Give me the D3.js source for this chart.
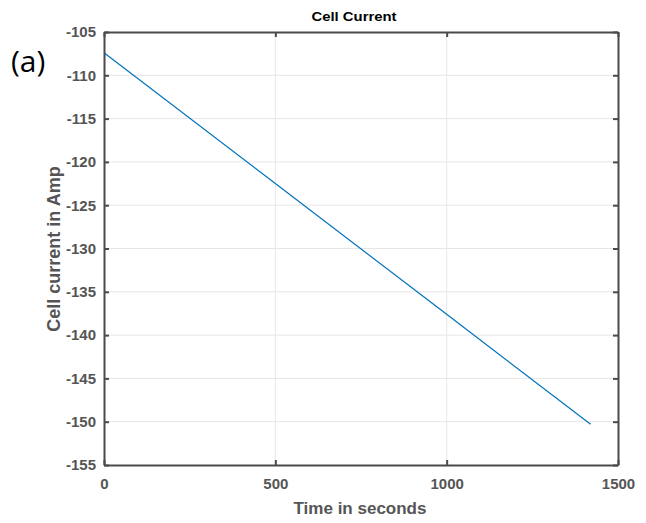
<!DOCTYPE html>
<html><head><meta charset="utf-8">
<script src="https://cdn.jsdelivr.net/npm/d3@7"></script>
<style>body{margin:0;background:#fff}svg{display:block}</style>
</head><body>
<svg id="c" width="646" height="523"></svg>
<script>
const timeValues = [0, 500, 1000, 1420];
const currentValues = [-107.4, -122.5, -137.6, -150.3];
const xTicks = [0, 500, 1000, 1500];
const yTicks = [-105, -110, -115, -120, -125, -130, -135, -140, -145, -150, -155];
const titleText = "Cell Current";
const xLabel = "Time in seconds";
const yLabel = "Cell current in Amp";
const panelLabel = "(a)";

const svg = d3.select("#c");
const L = 104, R = 618, T = 32, B = 465;
const x = d3.scaleLinear().domain([0, 1500]).range([L, R]);
const y = d3.scaleLinear().domain([-155, -105]).range([B, T]);
const axisColor = "#4a4a4a";
const fmt = d => String(d);

// grid
svg.append("g").selectAll("line").data(xTicks.slice(1, -1)).join("line")
  .attr("x1", d => x(d)).attr("x2", d => x(d)).attr("y1", T).attr("y2", B)
  .attr("stroke", "#e6e6e6").attr("stroke-width", 1);
svg.append("g").selectAll("line").data(yTicks.slice(1, -1)).join("line")
  .attr("y1", d => y(d)).attr("y2", d => y(d)).attr("x1", L).attr("x2", R)
  .attr("stroke", "#e6e6e6").attr("stroke-width", 1);

// data line
svg.append("path").datum(timeValues.map((t, i) => [t, currentValues[i]]))
  .attr("d", d3.line().x(d => x(d[0])).y(d => y(d[1])))
  .attr("fill", "none").attr("stroke", "#0072bd").attr("stroke-width", 1.2);

// axes
const fontFam = "'Liberation Sans', Arial, sans-serif";
const xb = svg.append("g").attr("transform", `translate(0,${B})`)
  .call(d3.axisBottom(x).tickValues(xTicks).tickSizeInner(-5).tickSizeOuter(0).tickPadding(13).tickFormat(fmt));
const xt = svg.append("g").attr("transform", `translate(0,${T})`)
  .call(d3.axisTop(x).tickValues(xTicks).tickSizeInner(-5).tickSizeOuter(0).tickFormat(""));
const yl = svg.append("g").attr("transform", `translate(${L},0)`)
  .call(d3.axisLeft(y).tickValues(yTicks).tickSizeInner(-5).tickSizeOuter(0).tickPadding(8).tickFormat(fmt));
const yr = svg.append("g").attr("transform", `translate(${R},0)`)
  .call(d3.axisRight(y).tickValues(yTicks).tickSizeInner(-5).tickSizeOuter(0).tickFormat(""));
[xb, xt, yl, yr].forEach(g => {
  g.select(".domain").attr("stroke", axisColor).attr("stroke-width", 2);
  g.selectAll(".tick line").attr("stroke", axisColor).attr("stroke-width", 2);
  g.selectAll("text").attr("fill", "#555").attr("font-family", fontFam)
    .attr("font-weight", "bold").attr("font-size", 15);
});

// title
svg.append("text").attr("x", 354).attr("y", 21).attr("text-anchor", "middle")
  .attr("font-family", fontFam).attr("font-weight", "bold").attr("font-size", 13)
  .attr("textLength", 85).attr("lengthAdjust", "spacingAndGlyphs")
  .attr("fill", "#000").text(titleText);
// x label
svg.append("text").attr("x", 360).attr("y", 514).attr("text-anchor", "middle")
  .attr("font-family", fontFam).attr("font-weight", "bold").attr("font-size", 17)
  .attr("fill", "#555").text(xLabel);
// y label
svg.append("text").attr("transform", "translate(60,249) rotate(-90)").attr("text-anchor", "middle")
  .attr("font-family", fontFam).attr("font-weight", "bold").attr("font-size", 18)
  .attr("fill", "#555").text(yLabel);
// panel label
svg.append("text").attr("x", 11).attr("y", 72)
  .attr("font-family", "'Open Sans', sans-serif").attr("font-size", 30)
  .attr("fill", "#000").text(panelLabel);
</script>
</body></html>
